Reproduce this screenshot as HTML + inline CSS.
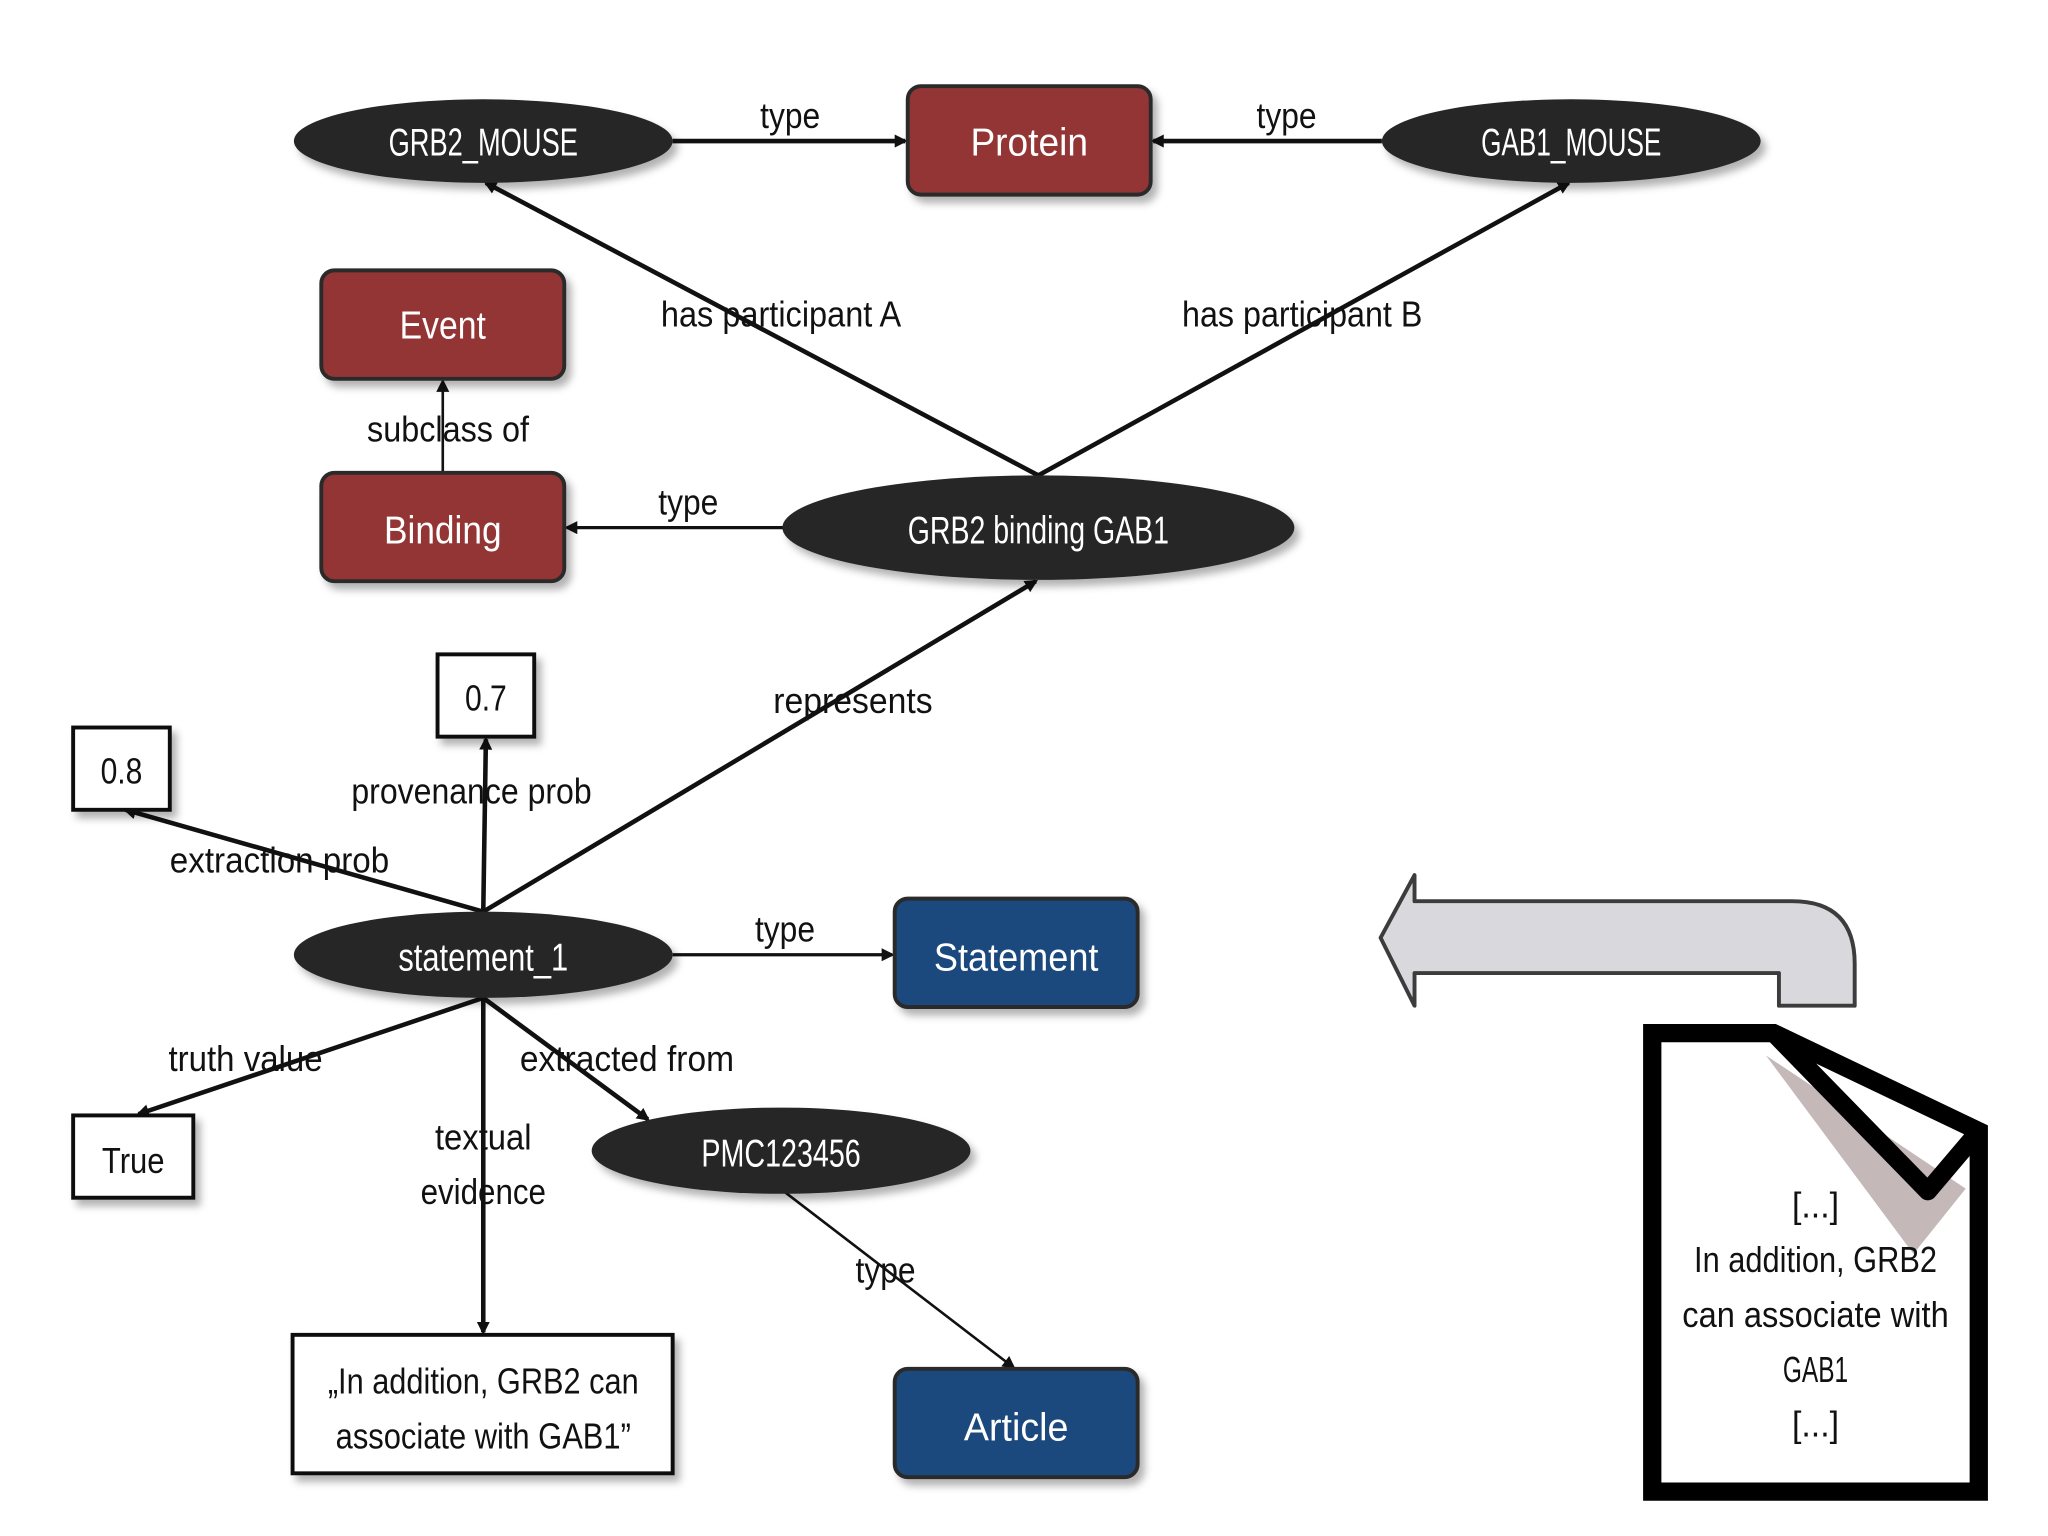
<!DOCTYPE html>
<html><head><meta charset="utf-8"><style>
html,body{margin:0;padding:0;background:#fff;}
svg{display:block;}
text{font-family:"Liberation Sans",sans-serif;}
.w{fill:#fff;font-size:30px;text-anchor:middle;}
.b{fill:#111;font-size:28px;text-anchor:middle;}
.e{stroke:#111;stroke-width:3.5;fill:none;}
</style></head><body>
<svg width="2048" height="1536" viewBox="0 0 1568 1176" preserveAspectRatio="none" xmlns="http://www.w3.org/2000/svg">
<defs>
<marker id="a" markerWidth="10" markerHeight="10" refX="8" refY="5" orient="auto" markerUnits="userSpaceOnUse"><path d="M0,0 L10,5 L0,10 Z" fill="#111"/></marker>
<filter id="s" x="-20%" y="-20%" width="140%" height="150%"><feDropShadow dx="4" dy="5" stdDeviation="3" flood-color="#000" flood-opacity="0.3"/></filter>
</defs>
<rect width="1568" height="1176" fill="#fff"/>

<!-- edges -->
<line class="e" x1="515" y1="108" x2="693" y2="108" marker-end="url(#a)"/>
<line class="e" x1="1058" y1="108" x2="883" y2="108" marker-end="url(#a)"/>
<line class="e" x1="795" y1="364" x2="372" y2="140" marker-end="url(#a)"/>
<line class="e" x1="795" y1="364" x2="1201" y2="140" marker-end="url(#a)"/>
<line class="e" x1="339" y1="362" x2="339" y2="292" marker-end="url(#a)" style="stroke-width:2"/>
<line class="e" x1="600" y1="404" x2="434" y2="404" marker-end="url(#a)" style="stroke-width:2.5"/>
<line class="e" x1="370" y1="698" x2="793" y2="445" marker-end="url(#a)"/>
<line class="e" x1="370" y1="698" x2="372" y2="566" marker-end="url(#a)"/>
<line class="e" x1="370" y1="698" x2="96" y2="620" marker-end="url(#a)"/>
<line class="e" x1="515" y1="731" x2="683" y2="731" marker-end="url(#a)" style="stroke-width:2.5"/>
<line class="e" x1="370" y1="764" x2="106" y2="853" marker-end="url(#a)"/>
<line class="e" x1="370" y1="764" x2="370" y2="1020" marker-end="url(#a)"/>
<line class="e" x1="370" y1="764" x2="496" y2="857" marker-end="url(#a)"/>
<line class="e" x1="600" y1="912" x2="776" y2="1047" marker-end="url(#a)" style="stroke-width:2"/>

<!-- nodes -->
<g filter="url(#s)">
<ellipse cx="370" cy="108" rx="145" ry="32" fill="#262626"/>
<ellipse cx="1203" cy="108" rx="145" ry="32" fill="#262626"/>
<rect x="695" y="66" width="186" height="83" rx="10" fill="#943634" stroke="#2a2a2a" stroke-width="3"/>
<rect x="246" y="207" width="186" height="83" rx="10" fill="#943634" stroke="#2a2a2a" stroke-width="3"/>
<rect x="246" y="362" width="186" height="83" rx="10" fill="#943634" stroke="#2a2a2a" stroke-width="3"/>
<ellipse cx="795" cy="404" rx="196" ry="40" fill="#262626"/>
<rect x="335" y="501" width="74" height="63" fill="#fff" stroke="#111" stroke-width="3"/>
<rect x="56" y="557" width="74" height="63" fill="#fff" stroke="#111" stroke-width="3"/>
<ellipse cx="370" cy="731" rx="145" ry="33" fill="#262626"/>
<rect x="685" y="688" width="186" height="83" rx="10" fill="#1f497d" stroke="#2a2a2a" stroke-width="3"/>
<rect x="56" y="854" width="92" height="63" fill="#fff" stroke="#111" stroke-width="3"/>
<ellipse cx="598" cy="881" rx="145" ry="33" fill="#262626"/>
<rect x="224" y="1022" width="291" height="106" fill="#fff" stroke="#111" stroke-width="3"/>
<rect x="685" y="1048" width="186" height="83" rx="10" fill="#1f497d" stroke="#2a2a2a" stroke-width="3"/>
</g>

<!-- node labels -->
<text class="w" x="370" y="119" textLength="145" lengthAdjust="spacingAndGlyphs">GRB2_MOUSE</text>
<text class="w" x="1203" y="119" textLength="138" lengthAdjust="spacingAndGlyphs">GAB1_MOUSE</text>
<text class="w" x="788" y="119" font-size="34" textLength="90" lengthAdjust="spacingAndGlyphs">Protein</text>
<text class="w" x="339" y="259" font-size="34" textLength="66" lengthAdjust="spacingAndGlyphs">Event</text>
<text class="w" x="339" y="416" font-size="34" textLength="90" lengthAdjust="spacingAndGlyphs">Binding</text>
<text class="w" x="795" y="416" textLength="200" lengthAdjust="spacingAndGlyphs">GRB2 binding GAB1</text>
<text class="b" x="372" y="544" font-size="32" textLength="32" lengthAdjust="spacingAndGlyphs">0.7</text>
<text class="b" x="93" y="600" font-size="32" textLength="32" lengthAdjust="spacingAndGlyphs">0.8</text>
<text class="w" x="370" y="743" textLength="130" lengthAdjust="spacingAndGlyphs">statement_1</text>
<text class="w" x="778" y="743" font-size="34" textLength="126" lengthAdjust="spacingAndGlyphs">Statement</text>
<text class="b" x="102" y="898" font-size="32" textLength="48" lengthAdjust="spacingAndGlyphs">True</text>
<text class="w" x="598" y="893" textLength="122" lengthAdjust="spacingAndGlyphs">PMC123456</text>
<text class="b" x="370" y="1067" textLength="238" lengthAdjust="spacingAndGlyphs">„In addition, GRB2 can</text>
<text class="b" x="370" y="1109" textLength="226" lengthAdjust="spacingAndGlyphs">associate with GAB1”</text>
<text class="w" x="778" y="1103" font-size="34" textLength="80" lengthAdjust="spacingAndGlyphs">Article</text>

<!-- edge labels -->
<text class="b" x="605" y="98" textLength="46" lengthAdjust="spacingAndGlyphs">type</text>
<text class="b" x="985" y="98" textLength="46" lengthAdjust="spacingAndGlyphs">type</text>
<text class="b" x="598" y="250" textLength="184" lengthAdjust="spacingAndGlyphs">has participant A</text>
<text class="b" x="997" y="250" textLength="184" lengthAdjust="spacingAndGlyphs">has participant B</text>
<text class="b" x="343" y="338" textLength="124" lengthAdjust="spacingAndGlyphs">subclass of</text>
<text class="b" x="527" y="394" textLength="46" lengthAdjust="spacingAndGlyphs">type</text>
<text class="b" x="653" y="546" textLength="122" lengthAdjust="spacingAndGlyphs">represents</text>
<text class="b" x="361" y="615" textLength="184" lengthAdjust="spacingAndGlyphs">provenance prob</text>
<text class="b" x="214" y="668" textLength="168" lengthAdjust="spacingAndGlyphs">extraction prob</text>
<text class="b" x="601" y="721" textLength="46" lengthAdjust="spacingAndGlyphs">type</text>
<text class="b" x="188" y="820" textLength="118" lengthAdjust="spacingAndGlyphs">truth value</text>
<text class="b" x="480" y="820" textLength="164" lengthAdjust="spacingAndGlyphs">extracted from</text>
<text class="b" x="370" y="880" textLength="74" lengthAdjust="spacingAndGlyphs">textual</text>
<text class="b" x="370" y="922" textLength="96" lengthAdjust="spacingAndGlyphs">evidence</text>
<text class="b" x="678" y="982" textLength="46" lengthAdjust="spacingAndGlyphs">type</text>

<!-- big arrow -->
<path d="M1057,718 L1083,670 L1083,690 L1372,690 Q1420,690 1420,738 L1420,770 L1362,770 L1362,745 L1083,745 L1083,770 Z" fill="#d9d8dc" stroke="#3c3c3c" stroke-width="3" stroke-linejoin="round"/>

<!-- document -->
<path d="M1265,791 L1358,791 L1515,866 L1515,1142 L1265,1142 Z" fill="#fff" stroke="#000" stroke-width="14"/>
<path d="M1352,808 L1465,960 L1505,910 Z" fill="#c5b8b8"/>
<path d="M1358,791 L1476,912 L1515,866" fill="none" stroke="#000" stroke-width="14" stroke-linejoin="round"/>
<g class="b" font-size="30">
<text x="1390" y="932" textLength="36" lengthAdjust="spacingAndGlyphs">[...]</text>
<text x="1390" y="974" textLength="186" lengthAdjust="spacingAndGlyphs">In addition, GRB2</text>
<text x="1390" y="1016" textLength="204" lengthAdjust="spacingAndGlyphs">can associate with</text>
<text x="1390" y="1058" textLength="50" lengthAdjust="spacingAndGlyphs">GAB1</text>
<text x="1390" y="1100" textLength="36" lengthAdjust="spacingAndGlyphs">[...]</text>
</g>
</svg>
</body></html>
